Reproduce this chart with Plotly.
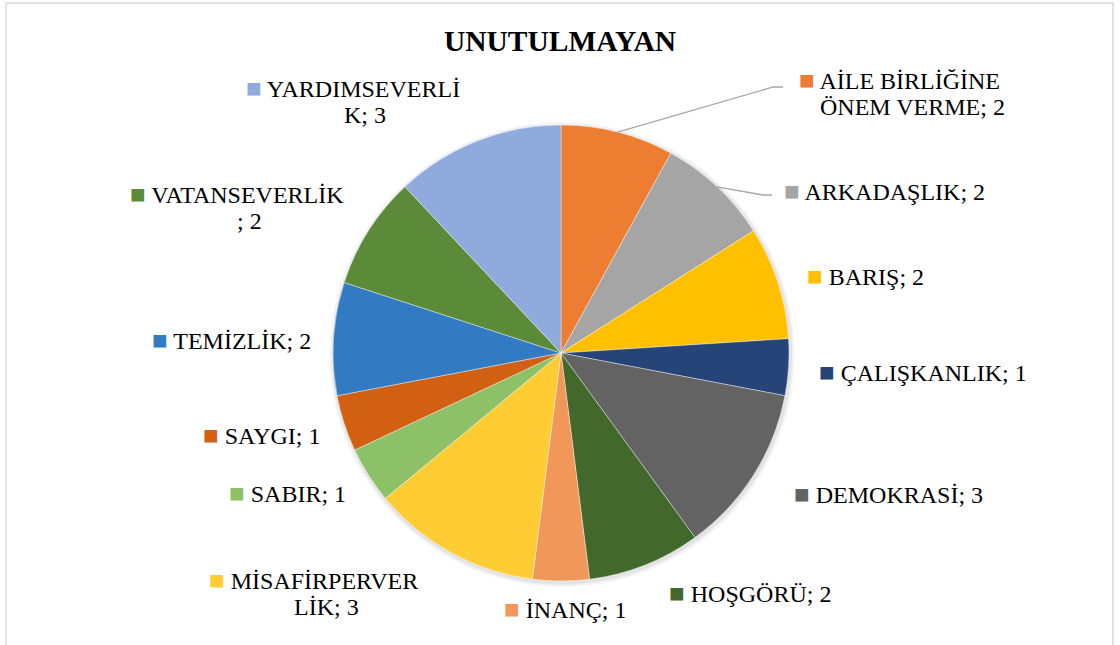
import plotly.graph_objects as go
import math

# ---- data ----
categories = ["AİLE BİRLİĞİNE ÖNEM VERME", "ARKADAŞLIK", "BARIŞ", "ÇALIŞKANLIK", "DEMOKRASİ",
              "HOŞGÖRÜ", "İNANÇ", "MİSAFİRPERVERLİK", "SABIR", "SAYGI", "TEMİZLİK",
              "VATANSEVERLİK", "YARDIMSEVERLİK"]
values = [2, 2, 2, 1, 3, 2, 1, 3, 1, 1, 2, 2, 3]
# how the label text wraps in the original chart
label_lines = [["AİLE BİRLİĞİNE", "ÖNEM VERME"], ["ARKADAŞLIK"], ["BARIŞ"], ["ÇALIŞKANLIK"],
               ["DEMOKRASİ"], ["HOŞGÖRÜ"], ["İNANÇ"], ["MİSAFİRPERVER", "LİK"], ["SABIR"],
               ["SAYGI"], ["TEMİZLİK"], ["VATANSEVERLİK", ""], ["YARDIMSEVERLİ", "K"]]
title = "UNUTULMAYAN"

# ---- styles / layout ----
colors = ["#ED7D31", "#A5A5A5", "#FFC000", "#264478", "#636363", "#43682B", "#F1975A",
          "#FFCD33", "#8CC168", "#D26012", "#327BC2", "#5B8B39", "#8FAADC"]
W, H = 1120, 645
cx, cy, R = 561, 353, 228
# label text centre x and first-line y (px)
label_pos = [(912, 80), (897, 191), (878, 276), (935, 372), (901, 494), (762, 593),
             (577, 609), (326, 580), (300, 493), (274, 435), (244, 340), (249, 194), (365, 88)]
LINE_GAP = 27      # px between wrapped lines
SQ_SHIFT = 12.5    # half width of "■ " prefix
# leader line elbows and ends (px) for labels that have them
leaders = {0: [(773, 87), (783, 87)], 1: [(763, 195), (772, 195)]}

FONT = "Liberation Serif, Times New Roman, serif"

fig = go.Figure(go.Pie(
    labels=categories, values=values, sort=False, direction="clockwise", rotation=0,
    marker=dict(colors=colors, line=dict(color="rgba(255,255,255,0.8)", width=0.5)),
    textinfo="none", hoverinfo="label+value", showlegend=False,
    domain=dict(x=[(cx - R) / W, (cx + R) / W], y=[1 - (cy + R) / H, 1 - (cy - R) / H]),
))

def px(x, y):
    return x / W, 1 - y / H

annotations = []
for i, (lines, v) in enumerate(zip(label_lines, values)):
    tx, ty = label_pos[i]
    sq = f"<span style='color:{colors[i]};font-size:26px'>■</span> "
    texts = [lines[0]] if len(lines) == 1 else list(lines)
    texts[-1] = f"{texts[-1]}; {v}"
    for k, t in enumerate(texts):
        if k == 0:
            t = sq + t
            x_c = tx - SQ_SHIFT
        else:
            x_c = tx
        x, y = px(x_c, ty + k * LINE_GAP)
        annotations.append(dict(text=t, x=x, y=y, xref="paper", yref="paper",
                                xanchor="center", yanchor="middle", align="center",
                                showarrow=False, font=dict(family=FONT, size=24, color="#000000")))

shapes = [dict(type="rect", xref="paper", yref="paper", x0=6 / W, x1=1113 / W, y0=-0.05, y1=1 - 3 / H,
               line=dict(color="#D9D9D9", width=1.5), fillcolor="rgba(0,0,0,0)", layer="below")]

# soft shadow around the pie
for dr, a in [(5, 0.025), (3.5, 0.035), (2, 0.05)]:
    x0, y0 = px(cx - R - dr + 1, cy + R + dr + 1.5)
    x1, y1 = px(cx + R + dr + 1, cy - R - dr + 1.5)
    shapes.append(dict(type="circle", xref="paper", yref="paper", x0=x0, x1=x1, y0=y0, y1=y1,
                       fillcolor=f"rgba(0,0,0,{a})", line=dict(width=0), layer="below"))

total = sum(values)
cum = 0
for i, v in enumerate(values):
    mid = (cum + v / 2) / total * 2 * math.pi
    cum += v
    if i in leaders:
        sx, sy = cx + R * math.sin(mid), cy - R * math.cos(mid)
        pts = [(sx, sy)] + leaders[i]
        path = "M " + " L ".join(f"{px(a, b)[0]},{px(a, b)[1]}" for a, b in pts)
        shapes.append(dict(type="path", xref="paper", yref="paper", path=path,
                           line=dict(color="#A6A6A6", width=1.3)))

fig.update_layout(
    width=W, height=H, margin=dict(l=0, r=0, t=0, b=0),
    paper_bgcolor="white", plot_bgcolor="white",
    title=dict(text=f"<b>{title}</b>", x=0.5, xanchor="center", y=1 - 41 / H, yanchor="middle",
               font=dict(family=FONT, size=29.5, color="#000000")),
    annotations=annotations, shapes=shapes,
)

fig.write_html("out.html", config={"displayModeBar": False},
               post_script="document.body.style.margin='0';")
